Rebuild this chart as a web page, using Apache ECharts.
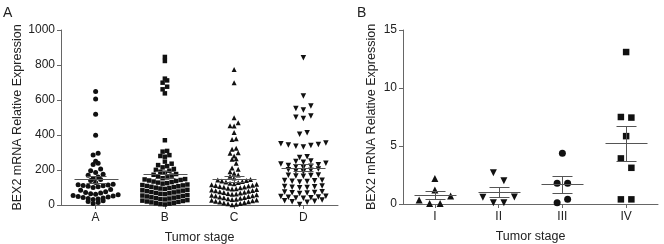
<!DOCTYPE html>
<html>
<head>
<meta charset="utf-8">
<script src="https://cdn.jsdelivr.net/npm/echarts@6/dist/echarts.min.js"></script>
<style>
  html, body { margin: 0; padding: 0; background: #fff; }
  #chart { width: 664px; height: 244px; }
</style>
</head>
<body>
<div id="chart"></div>
<script>
// panel A: expression by group
const groupsA = ['A', 'B', 'C', 'D'];
const groupA = [8, 14, 20, 25,
  31, 34, 37, 40, 43, 46, 49, 52, 55, 58,
  62, 65, 68, 72, 76, 85, 88,
  100, 104, 107, 110, 112, 114, 116, 118,
  128, 140, 146,
  152, 160, 170, 176,
  186, 196, 206,
  232, 238, 250, 286, 296,
  398, 518, 606, 648];
const groupB = [3, 5, 8, 10, 13, 15, 18, 20, 23, 25, 28,
  32, 34, 37, 39, 42, 44, 47, 49, 52, 54, 57,
  62, 64, 67, 69, 72, 74, 77, 79, 82, 84, 87,
  92, 94, 97, 99, 102, 104, 107, 109, 112, 114, 117,
  122, 125, 128, 131, 134, 137, 140, 143, 146, 148,
  153, 158, 163, 168, 173, 177,
  184, 190, 196, 201, 206,
  215, 222, 228, 236,
  248, 276, 280, 285, 305, 309, 370,
  638, 661, 676, 699, 712, 722, 823, 846];
const groupC = [2, 4, 7, 9, 12, 14, 17, 19, 22, 24, 27, 29,
  31, 33, 36, 38, 41, 43, 46, 48, 51, 53, 56, 58,
  61, 63, 66, 68, 71, 73, 76, 78, 81, 83, 86, 88,
  91, 93, 96, 98, 101, 103, 106, 108, 111, 113, 116, 118,
  122, 125, 128, 131, 134, 137, 140, 143, 146,
  155, 165, 172,
  182, 190, 205,
  212, 238, 261, 264,
  280, 296, 299, 318, 324,
  375, 378, 415, 451, 453, 470, 499, 699, 775];
const groupD = [3, 16, 19, 22, 25, 28,
  38, 40, 42, 44, 46, 48, 50,
  66, 68, 70, 72, 74, 76,
  98, 100, 102, 104, 106, 108,
  132, 134, 136, 138, 140, 142,
  164, 166, 168, 170, 172,
  190, 194, 198, 202, 206,
  214, 218, 222, 226, 230, 234, 238,
  244, 248, 252, 272, 276,
  332, 336, 340, 343, 346, 350, 354,
  404, 413,
  495, 502, 508,
  543, 552, 566,
  623, 842];
const ticksA = [0, 200, 400, 600, 800, 1000];

// panel B: expression by tumor stage
const stagesB = ['I', 'II', 'III', 'IV'];
const stageI = [0.05, 0.05, 0.35, 0.7, 1.2, 2.2];
const stageII = [0.1, 0.1, 0.58, 0.6, 2.7, 2.0];
const stageIII = [0.1, 0.42, 1.78, 1.78, 4.37];
const stageIV = [0.4, 0.4, 3.93, 3.12, 5.85, 7.5, 7.45, 13.1];
const ticksB = [0, 5, 10, 15];

const FONT = 'Liberation Sans, Arial, sans-serif';
const INK = '#111';
const AXIS = '#666';

// spread points of the same value bin sideways (prism-like column scatter)
function swarm(values, binSize, maxStep, maxWidth) {
  const bins = {};
  values.forEach((v, i) => {
    const b = Math.floor(v / binSize);
    (bins[b] = bins[b] || []).push(i);
  });
  let maxN = 1;
  Object.values(bins).forEach(b => { maxN = Math.max(maxN, b.length); });
  const step = Math.min(maxStep, maxWidth / Math.max(maxN - 1, 1));
  const offsets = values.map(() => 0);
  Object.values(bins).forEach(idx => {
    const n = idx.length;
    const slots = [];
    for (let k = 0; k < n; k++) slots.push(k - (n - 1) / 2);
    slots.sort((a, b) => Math.abs(a) - Math.abs(b) || a - b);
    idx.forEach((i, k) => { offsets[i] = slots[k] * step; });
  });
  return offsets;
}

function stats(values) {
  const n = values.length;
  const mean = values.reduce((s, v) => s + v, 0) / n;
  const sd = Math.sqrt(values.reduce((s, v) => s + (v - mean) * (v - mean), 0) / (n - 1));
  const sem = sd / Math.sqrt(n);
  return [mean, mean - sem, mean + sem];
}

function dotSeries(values, cat, axisIdx, opt) {
  const offs = swarm(values, opt.bin, opt.step, opt.width);
  return {
    type: 'scatter',
    xAxisIndex: axisIdx,
    yAxisIndex: axisIdx,
    symbol: opt.symbol,
    symbolSize: opt.size,
    symbolRotate: opt.rotate || 0,
    itemStyle: { color: INK, opacity: 1 },
    emphasis: { disabled: true },
    silent: true,
    z: 2,
    data: values.map((v, i) => ({ value: [cat, v], symbolOffset: [offs[i], 0] }))
  };
}

function meanSemSeries(groups, axisIdx, halfMean, halfSem) {
  return {
    type: 'custom',
    xAxisIndex: axisIdx,
    yAxisIndex: axisIdx,
    silent: true,
    z: 5,
    data: groups.map((g, i) => [i].concat(stats(g))),
    renderItem: function (params, api) {
      const c = api.value(0);
      const m = api.coord([c, api.value(1)]);
      const lo = api.coord([c, api.value(2)]);
      const hi = api.coord([c, api.value(3)]);
      const x = Math.round(m[0]) + 0.5;
      const ym = Math.round(m[1]) + 0.5;
      const yl = Math.round(lo[1]) + 0.5;
      const yh = Math.round(hi[1]) + 0.5;
      const style = { stroke: '#555', lineWidth: 1 };
      return {
        type: 'group',
        children: [
          { type: 'line', shape: { x1: x - halfMean, y1: ym, x2: x + halfMean, y2: ym }, style },
          { type: 'line', shape: { x1: x - halfSem, y1: yh, x2: x + halfSem, y2: yh }, style },
          { type: 'line', shape: { x1: x - halfSem, y1: yl, x2: x + halfSem, y2: yl }, style },
          { type: 'line', shape: { x1: x, y1: yh, x2: x, y2: yl }, style }
        ]
      };
    }
  };
}

function xAxisOf(idx, cats) {
  return {
    gridIndex: idx,
    type: 'category',
    data: cats,
    name: 'Tumor stage',
    nameLocation: 'middle',
    nameGap: 26,
    nameTextStyle: { color: '#222', fontSize: 12.5, fontFamily: FONT },
    axisLine: { show: true, lineStyle: { color: AXIS, width: 1 } },
    axisTick: { show: true, alignWithLabel: true, length: 4, lineStyle: { color: AXIS } },
    axisLabel: { color: '#222', fontSize: 12, fontFamily: FONT, margin: 7 },
    splitLine: { show: false }
  };
}

function yAxisOf(idx, ticks) {
  return {
    gridIndex: idx,
    type: 'value',
    min: ticks[0],
    max: ticks[ticks.length - 1],
    interval: ticks[1] - ticks[0],
    name: 'BEX2 mRNA Relative Expression',
    nameLocation: 'middle',
    nameRotate: 90,
    nameGap: idx === 0 ? 31 : 25,
    nameTextStyle: { color: '#222', fontSize: 12.5, fontFamily: FONT },
    axisLine: { show: true, lineStyle: { color: AXIS, width: 1 } },
    axisTick: { show: true, length: 4, lineStyle: { color: AXIS } },
    axisLabel: { color: '#222', fontSize: 12, fontFamily: FONT, margin: 6,
      formatter: v => String(v) },
    splitLine: { show: false }
  };
}

const optsA = { bin: 30, step: 7.5, width: 45 };
const optsB = { bin: 1, step: 10.5, width: 40 };

const chart = echarts.init(document.getElementById('chart'), null, { renderer: 'canvas' });
chart.setOption({
  animation: false,
  backgroundColor: '#fff',
  grid: [
    { left: 61, top: 30, width: 277, height: 175, containLabel: false, outerBoundsMode: 'none' },
    { left: 403, top: 30, width: 255, height: 174, containLabel: false, outerBoundsMode: 'none' }
  ],
  xAxis: [xAxisOf(0, groupsA), xAxisOf(1, stagesB)],
  yAxis: [yAxisOf(0, ticksA), yAxisOf(1, ticksB)],
  graphic: [
    { type: 'text', left: 3, top: 6, style: { text: 'A', fontSize: 14, fontFamily: FONT, fill: '#222' } },
    { type: 'text', left: 357, top: 6, style: { text: 'B', fontSize: 14, fontFamily: FONT, fill: '#222' } }
  ],
  series: [
    dotSeries(groupA, 0, 0, Object.assign({ symbol: 'circle', size: 5 }, optsA)),
    dotSeries(groupB, 1, 0, Object.assign({ symbol: 'rect', size: 4.5 }, optsA)),
    dotSeries(groupC, 2, 0, Object.assign({ symbol: 'triangle', size: 5 }, optsA)),
    dotSeries(groupD, 3, 0, Object.assign({ symbol: 'triangle', size: 5.5, rotate: 180 }, optsA)),
    meanSemSeries([groupA, groupB, groupC, groupD], 0, 22, 10),
    dotSeries(stageI, 0, 1, Object.assign({ symbol: 'triangle', size: 7 }, optsB)),
    dotSeries(stageII, 1, 1, Object.assign({ symbol: 'triangle', size: 7, rotate: 180 }, optsB)),
    dotSeries(stageIII, 2, 1, Object.assign({ symbol: 'circle', size: 7 }, optsB)),
    dotSeries(stageIV, 3, 1, Object.assign({ symbol: 'rect', size: 6.5 }, optsB)),
    meanSemSeries([stageI, stageII, stageIII, stageIV], 1, 21, 10)
  ]
});
</script>
</body>
</html>
